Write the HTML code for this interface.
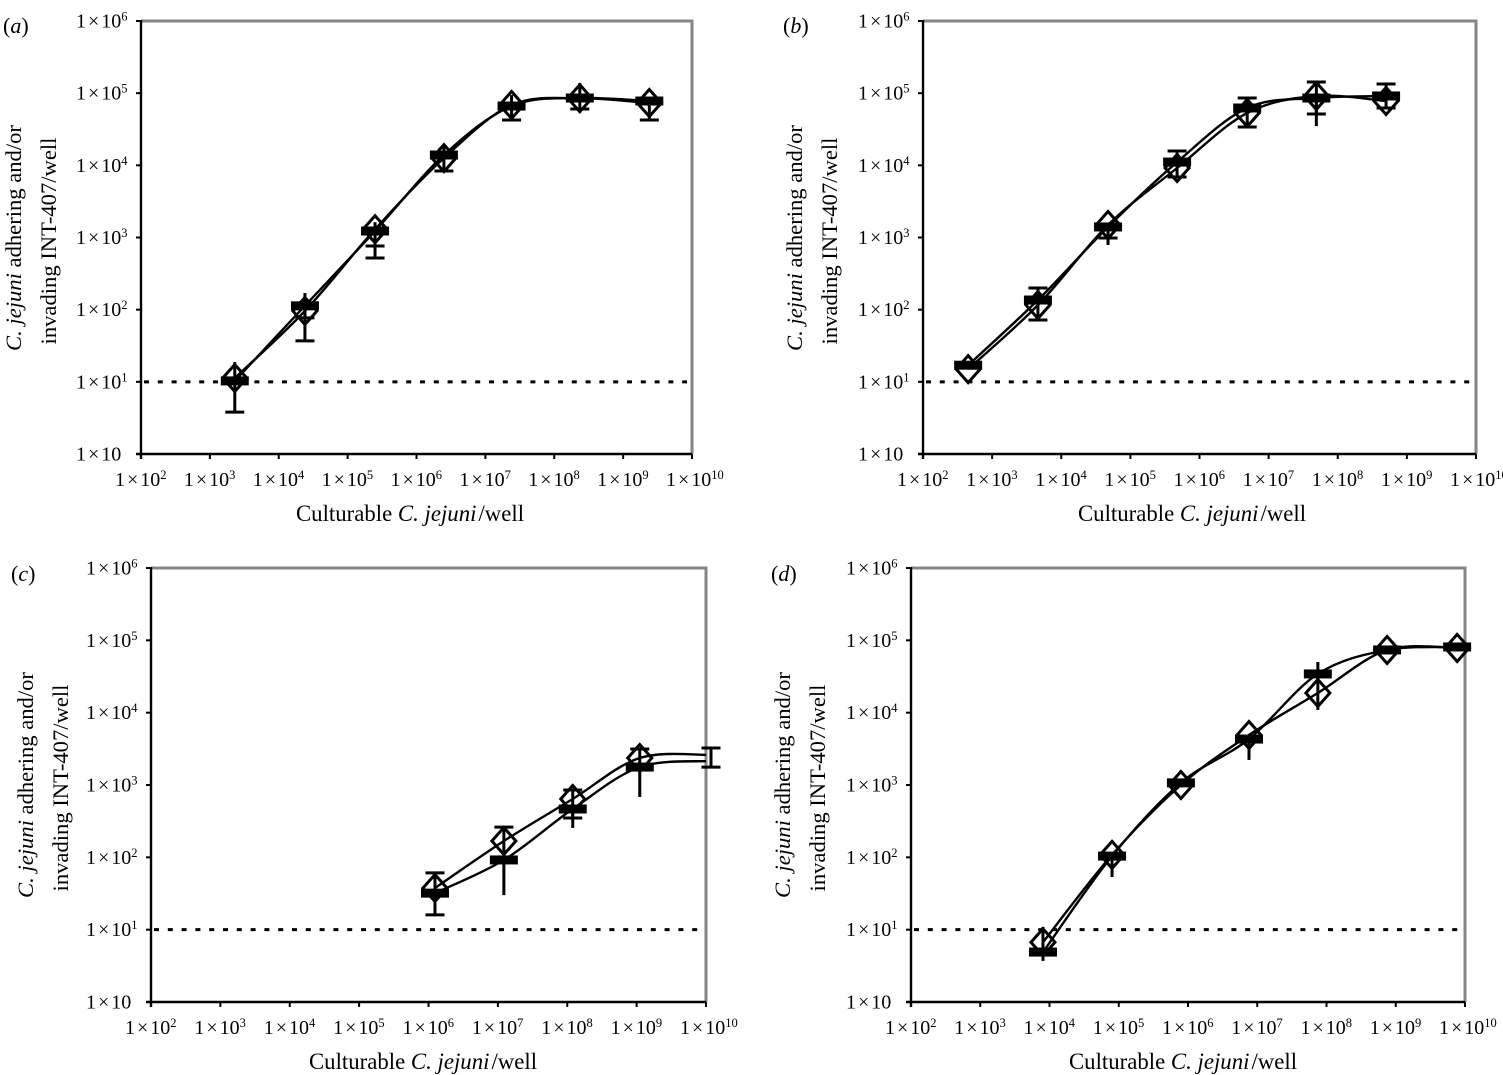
<!DOCTYPE html>
<html lang="en">
<head>
<meta charset="utf-8">
<title>C. jejuni adherence and invasion charts</title>
<style>
html,body{margin:0;padding:0;background:#fff;}
svg{display:block;font-family:"Liberation Serif","Times New Roman",serif;fill:#000;}
</style>
</head>
<body>
<svg id="figure" xmlns="http://www.w3.org/2000/svg" width="1503" height="1075" viewBox="0 0 1503 1075"></svg>
<script>
// Axis tick exponents (shared)
const xTickExponents = [2, 3, 4, 5, 6, 7, 8, 9, 10];
const yTickExponents = [0, 1, 2, 3, 4, 5, 6];
const detectionLimit = 10;

// Panel (a)
const aX = [2.3e3, 2.4e4, 2.5e5, 2.5e6, 2.4e7, 2.35e8, 2.4e9];
const aDiamond = [11.3, 96, 1300, 12600, 68500, 85000, 73000];
const aSquare = [10.3, 113, 1230, 13900, 66300, 85700, 77800];
const aCapped = [[3.8], [37, 77], [762, 520], [8340], [42500], [60300], [42500]];
const aSpikes = [[18.8], [170], [1630], [17900], [94000], [138000], []];

// Panel (b)
const bX = [4.5e2, 4.6e3, 4.75e4, 4.74e5, 4.9e6, 4.9e7, 5e8];
const bDiamond = [15, 116, 1490, 9180, 53100, 91500, 77800];
const bSquare = [17, 136, 1400, 11100, 62300, 85700, 91500];
const bCapped = [[], [200, 72], [984], [15800, 6890], [85700, 34000], [143000, 51500], [134000, 62300]];
const bSpikes = [[], [], [787], [], [], [35000], []];

// Panel (c)
const cX = [1.24e6, 1.22e7, 1.2e8, 1.11e9, 1.18e10];
const cDiamond = [37.7, 168, 641, 2360, 2600];
const cSquare = [32, 92, 466, 1770, 2150];
const cCapped = [[61, 16], [262], [853, 350], [3150], [3250, 1770]];
const cSpikes = [[], [30], [255], [683], []];

// Panel (d)
const dX = [8.05e3, 8e4, 7.9e5, 7.6e6, 7.5e7, 7.5e8, 7.7e9];
const dDiamond = [6.7, 108, 1000, 4910, 18700, 73600, 78500];
const dSquare = [4.9, 104, 1070, 4320, 34300, 73600, 81000];
const dCapped = [[], [], [], [], [], [], []];
const dSpikes = [[10.9, 3.7], [53.5], [], [2220], [50100, 10900], [], []];

const NS = 'http://www.w3.org/2000/svg';
const root = document.getElementById('figure');

function make(tag, parent, name, attrs) {
  const el = document.createElementNS(NS, tag);
  for (const k in attrs) el.setAttribute(k, attrs[k]);
  
  
  parent.appendChild(el);
  return el;
}

function span(parent, text, attrs) {
  const t = document.createElementNS(NS, 'tspan');
  for (const k in attrs) t.setAttribute(k, attrs[k]);
  t.textContent = text;
  parent.appendChild(t);
  return t;
}

function powerLabel(parent, name, exponent, attrs) {
  const t = make('text', parent, name, Object.assign({'font-size': 20}, attrs));
  span(t, '1', {});
  span(t, '×', {dx: 2});
  span(t, '10', {dx: 2});
  if (exponent !== 0) {
    span(t, String(exponent), {'font-size': 12.5, dy: -7});
  }
  return t;
}

function smoothPath(pts) {
  let d = 'M' + pts[0][0].toFixed(1) + ' ' + pts[0][1].toFixed(1);
  for (let i = 0; i < pts.length - 1; i++) {
    const p0 = pts[Math.max(i - 1, 0)], p1 = pts[i], p2 = pts[i + 1], p3 = pts[Math.min(i + 2, pts.length - 1)];
    const c1x = p1[0] + (p2[0] - p0[0]) / 6, c1y = p1[1] + (p2[1] - p0[1]) / 6;
    const c2x = p2[0] - (p3[0] - p1[0]) / 6, c2y = p2[1] - (p3[1] - p1[1]) / 6;
    d += 'C' + c1x.toFixed(1) + ' ' + c1y.toFixed(1) + ' ' + c2x.toFixed(1) + ' ' + c2y.toFixed(1) + ' ' + p2[0].toFixed(1) + ' ' + p2[1].toFixed(1);
  }
  return d;
}

function drawPanel(cfg) {
  const g = make('g', root, 'panel-' + cfg.id, {});
  const sx = v => cfg.left + (Math.log10(v) - 2) * (cfg.right - cfg.left) / 8;
  const sy = v => cfg.bottom - Math.log10(v) * (cfg.bottom - cfg.top) / 6;

  // panel letter
  const letter = make('text', g, 'panel-label', {x: cfg.letterX, y: cfg.letterY, 'font-size': 22});
  span(letter, '(', {});
  span(letter, cfg.id, {'font-style': 'italic'});
  span(letter, ')', {});

  // plot frame
  make('path', g, 'plot-frame-top-right', {d: `M${cfg.left} ${cfg.top}H${cfg.right}V${cfg.bottom}`, fill: 'none', stroke: '#868686', 'stroke-width': 3});
  make('line', g, 'x-axis-line', {x1: cfg.left - 5, x2: cfg.right, y1: cfg.bottom, y2: cfg.bottom, stroke: '#000', 'stroke-width': 2.4});
  make('line', g, 'y-axis-line', {x1: cfg.left, x2: cfg.left, y1: cfg.top - 1, y2: cfg.bottom + 5, stroke: '#000', 'stroke-width': 2.4});

  // ticks + labels
  xTickExponents.forEach(e => {
    const x = sx(Math.pow(10, e));
    make('line', g, 'x-tick-' + e, {x1: x, x2: x, y1: cfg.bottom, y2: cfg.bottom + 5, stroke: '#000', 'stroke-width': 2});
    powerLabel(g, 'x-tick-label-' + e, e, {x: x - 26, y: cfg.bottom + 32});
  });
  yTickExponents.forEach(e => {
    const y = sy(Math.pow(10, e));
    make('line', g, 'y-tick-' + e, {x1: cfg.left - 5, x2: cfg.left, y1: y, y2: y, stroke: '#000', 'stroke-width': 2});
    powerLabel(g, 'y-tick-label-' + e, e, {x: cfg.left - 65, y: y + 6.5});
  });

  // axis titles
  const xt = make('text', g, 'x-axis-title', {x: cfg.xTitleX, y: cfg.bottom + 67, 'font-size': 22.8, 'text-anchor': 'middle'});
  span(xt, 'Culturable ', {});
  span(xt, 'C. jejuni', {'font-style': 'italic'});
  span(xt, '/', {dx: 2});
  span(xt, 'well', {});

  const y1 = make('text', g, 'y-axis-title-line-1', {transform: `translate(${cfg.yTitleX} ${cfg.yTitleY}) rotate(-90)`, 'font-size': 22.6, 'text-anchor': 'middle'});
  span(y1, 'C. jejuni', {'font-style': 'italic'});
  span(y1, ' adhering and/or', {});
  const y2 = make('text', g, 'y-axis-title-line-2', {transform: `translate(${cfg.yTitleX + 35} ${cfg.yTitleY + 3}) rotate(-90)`, 'font-size': 22.6, 'text-anchor': 'middle'});
  span(y2, 'invading INT-407/well', {});

  // detection limit
  make('line', g, 'detection-limit-line', {x1: cfg.left + 3, x2: cfg.right - 5, y1: sy(detectionLimit), y2: sy(detectionLimit), stroke: '#000', 'stroke-width': 3, 'stroke-dasharray': '5 8.8'});

  // clip for lines
  const clip = make('clipPath', g, 'plot-clip', {id: 'clip-' + cfg.id});
  make('rect', clip, 'plot-clip-rect', {x: cfg.left, y: cfg.top, width: cfg.right - cfg.left, height: cfg.bottom - cfg.top});

  // series lines
  make('path', g, 'series-diamond-line', {d: smoothPath(cfg.x.map((v, i) => [sx(v), sy(cfg.diamond[i])])), fill: 'none', stroke: '#000', 'stroke-width': 2.4, 'clip-path': `url(#clip-${cfg.id})`});
  make('path', g, 'series-square-line', {d: smoothPath(cfg.x.map((v, i) => [sx(v), sy(cfg.square[i])])), fill: 'none', stroke: '#000', 'stroke-width': 2.4, 'clip-path': `url(#clip-${cfg.id})`});

  // error bars
  cfg.x.forEach((v, i) => {
    const px = sx(v), base = sy(cfg.square[i]);
    cfg.capped[i].forEach((end, k) => {
      make('line', g, `error-bar-${i}-${k}`, {x1: px, x2: px, y1: base, y2: sy(end), stroke: '#000', 'stroke-width': 3});
      make('line', g, `error-cap-${i}-${k}`, {x1: px - 9.5, x2: px + 9.5, y1: sy(end), y2: sy(end), stroke: '#000', 'stroke-width': 3});
    });
    cfg.spikes[i].forEach((end, k) => {
      make('line', g, `error-spike-${i}-${k}`, {x1: px, x2: px, y1: base, y2: sy(end), stroke: '#000', 'stroke-width': 3});
    });
  });

  // markers (only for points inside the axis range)
  cfg.x.forEach((v, i) => {
    const px = sx(v);
    if (px > cfg.right) return;
    const dy = sy(cfg.diamond[i]), qy = sy(cfg.square[i]);
    make('polygon', g, 'diamond-point-' + i, {points: `${px},${dy - 13.5} ${px + 12},${dy} ${px},${dy + 13.5} ${px - 12},${dy}`, fill: 'none', stroke: '#000', 'stroke-width': 3});
    make('rect', g, 'square-point-' + i, {x: px - 14, y: qy - 4.5, width: 28, height: 9, fill: '#000'});
  });
}

const panels = [
  {id: 'a', left: 141, right: 692, top: 21, bottom: 454, letterX: 3, letterY: 33, xTitleX: 410, yTitleX: 21, yTitleY: 238,
   x: aX, diamond: aDiamond, square: aSquare, capped: aCapped, spikes: aSpikes},
  {id: 'b', left: 923, right: 1476, top: 21, bottom: 454, letterX: 783, letterY: 33, xTitleX: 1192, yTitleX: 802, yTitleY: 238,
   x: bX, diamond: bDiamond, square: bSquare, capped: bCapped, spikes: bSpikes},
  {id: 'c', left: 151, right: 706, top: 568, bottom: 1002, letterX: 11, letterY: 581, xTitleX: 423, yTitleX: 33, yTitleY: 785,
   x: cX, diamond: cDiamond, square: cSquare, capped: cCapped, spikes: cSpikes},
  {id: 'd', left: 911, right: 1465, top: 568, bottom: 1002, letterX: 771, letterY: 581, xTitleX: 1183, yTitleX: 790, yTitleY: 785,
   x: dX, diamond: dDiamond, square: dSquare, capped: dCapped, spikes: dSpikes}
];
panels.forEach(drawPanel);
</script>
</body>
</html>
